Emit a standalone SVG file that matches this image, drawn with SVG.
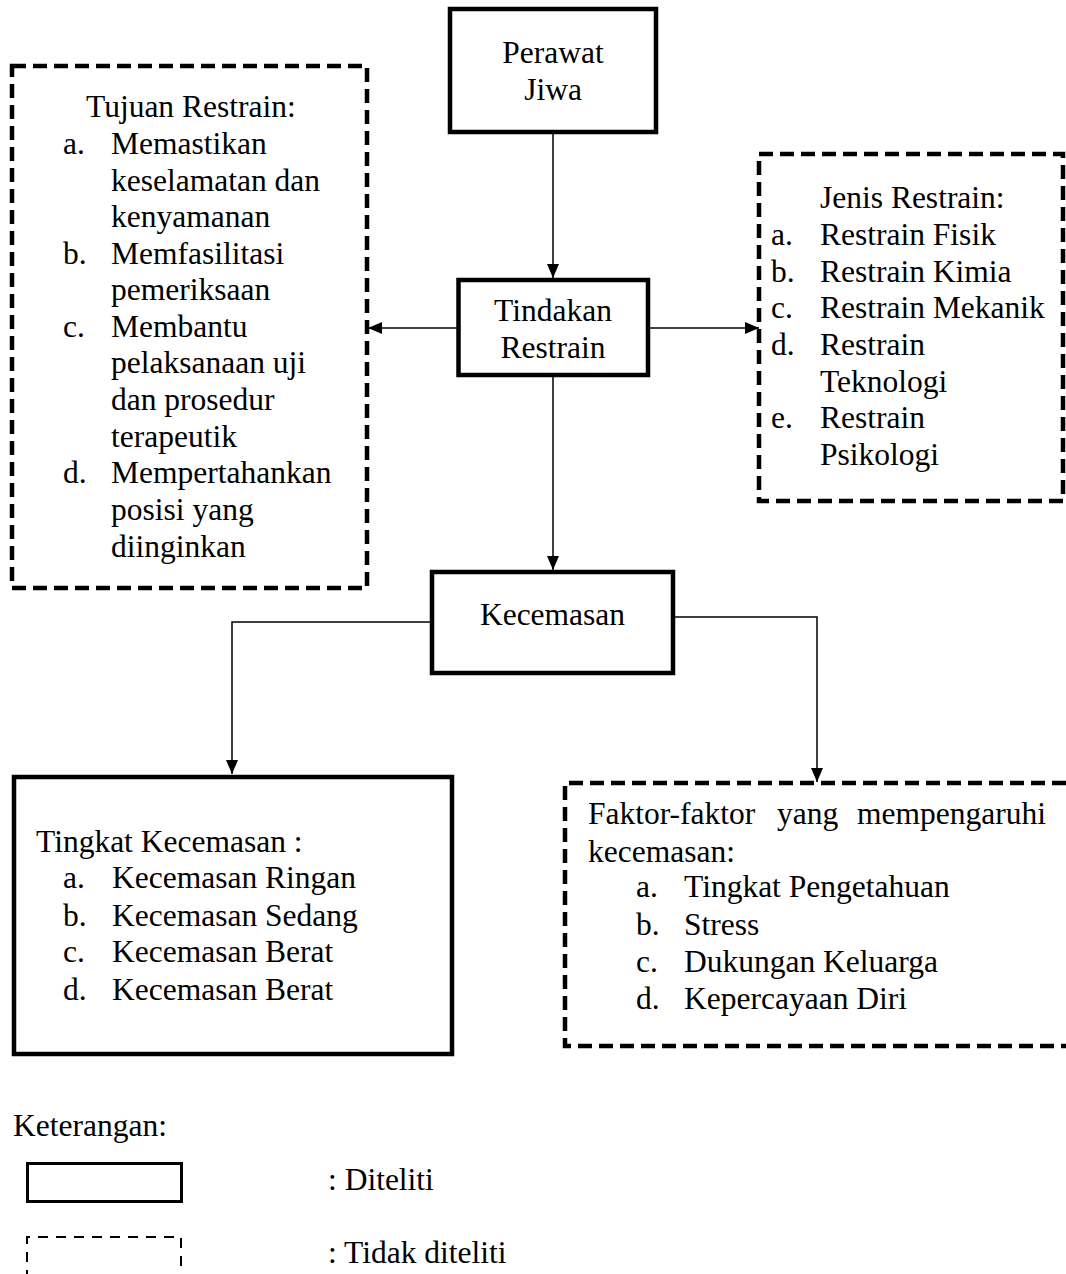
<svg xmlns="http://www.w3.org/2000/svg" width="1066" height="1274" viewBox="0 0 1066 1274">
<style>
text{font-family:"Liberation Serif","Times New Roman",serif;font-size:31.5px;fill:#000}
.c{text-anchor:middle}
.solid{fill:none;stroke:#000;stroke-width:4.5}
.dash{fill:none;stroke:#000;stroke-width:4.5;stroke-dasharray:14 7}
.conn{fill:none;stroke:#000;stroke-width:1.5}
</style>
<defs>
<marker id="ah" markerWidth="14" markerHeight="12" refX="14" refY="6" orient="auto" markerUnits="userSpaceOnUse">
<path d="M0,0 L14,6 L0,12 Z" fill="#000"/>
</marker>
</defs>
<rect width="1066" height="1274" fill="#fff"/>

<g id="connectors">
<line class="conn" x1="553" y1="134" x2="553" y2="278" marker-end="url(#ah)"/>
<line class="conn" x1="457" y1="328" x2="368" y2="328" marker-end="url(#ah)"/>
<line class="conn" x1="650" y1="328" x2="759" y2="328" marker-end="url(#ah)"/>
<line class="conn" x1="553" y1="377" x2="553" y2="570" marker-end="url(#ah)"/>
<polyline class="conn" points="430,622 232,622 232,774" marker-end="url(#ah)"/>
<polyline class="conn" points="675,617 817,617 817,782" marker-end="url(#ah)"/>
</g>

<g id="perawat">
<rect class="solid" x="450" y="9" width="206" height="123"/>
<text class="c" x="553" y="63">Perawat</text>
<text class="c" x="553" y="100">Jiwa</text>
</g>

<g id="tindakan">
<rect class="solid" x="458.5" y="280" width="189.5" height="95"/>
<text class="c" x="553" y="321">Tindakan</text>
<text class="c" x="553" y="358">Restrain</text>
</g>

<g id="tujuan">
<rect class="dash" x="12" y="66" width="355" height="522"/>
<text x="86" y="117">Tujuan Restrain:</text>
<text x="63" y="154">a.</text><text x="111" y="154">Memastikan</text>
<text x="111" y="191">keselamatan dan</text>
<text x="111" y="227">kenyamanan</text>
<text x="63" y="264">b.</text><text x="111" y="264">Memfasilitasi</text>
<text x="111" y="300">pemeriksaan</text>
<text x="63" y="337">c.</text><text x="111" y="337">Membantu</text>
<text x="111" y="373">pelaksanaan uji</text>
<text x="111" y="410">dan prosedur</text>
<text x="111" y="447">terapeutik</text>
<text x="63" y="483">d.</text><text x="111" y="483">Mempertahankan</text>
<text x="111" y="520">posisi yang</text>
<text x="111" y="557">diinginkan</text>
</g>

<g id="jenis">
<rect class="dash" x="759" y="154" width="304" height="347"/>
<text x="820" y="208">Jenis Restrain:</text>
<text x="771" y="245">a.</text><text x="820" y="245">Restrain Fisik</text>
<text x="771" y="282">b.</text><text x="820" y="282">Restrain Kimia</text>
<text x="771" y="318">c.</text><text x="820" y="318">Restrain Mekanik</text>
<text x="771" y="355">d.</text><text x="820" y="355">Restrain</text>
<text x="820" y="392">Teknologi</text>
<text x="771" y="428">e.</text><text x="820" y="428">Restrain</text>
<text x="820" y="465">Psikologi</text>
</g>

<g id="kecemasan">
<rect class="solid" x="432" y="572" width="241" height="101"/>
<text class="c" x="552.5" y="625">Kecemasan</text>
</g>

<g id="tingkat">
<rect class="solid" x="14" y="777" width="438" height="277"/>
<text x="36" y="852">Tingkat Kecemasan :</text>
<text x="63" y="888">a.</text><text x="112" y="888">Kecemasan Ringan</text>
<text x="63" y="926">b.</text><text x="112" y="926">Kecemasan Sedang</text>
<text x="63" y="962">c.</text><text x="112" y="962">Kecemasan Berat</text>
<text x="63" y="1000">d.</text><text x="112" y="1000">Kecemasan Berat</text>
</g>

<g id="faktor">
<path class="dash" d="M1066,783 H565 V1046 H1066"/>
<text x="588" y="824">Faktor-faktor</text>
<text x="777" y="824">yang</text>
<text x="1046" y="824" text-anchor="end">mempengaruhi</text>
<text x="588" y="862">kecemasan:</text>
<text x="636" y="897">a.</text><text x="684" y="897">Tingkat Pengetahuan</text>
<text x="636" y="935">b.</text><text x="684" y="935">Stress</text>
<text x="636" y="972">c.</text><text x="684" y="972">Dukungan Keluarga</text>
<text x="636" y="1009">d.</text><text x="684" y="1009">Kepercayaan Diri</text>
</g>

<g id="legend">
<text x="13" y="1136">Keterangan:</text>
<rect x="27.5" y="1163.5" width="154" height="38" fill="none" stroke="#000" stroke-width="3"/>
<text x="328" y="1190">: Diteliti</text>
<path d="M27,1280 V1237 H181 V1280" fill="none" stroke="#000" stroke-width="2" stroke-dasharray="10 8"/>
<text x="328" y="1263">: Tidak diteliti</text>
</g>
</svg>
